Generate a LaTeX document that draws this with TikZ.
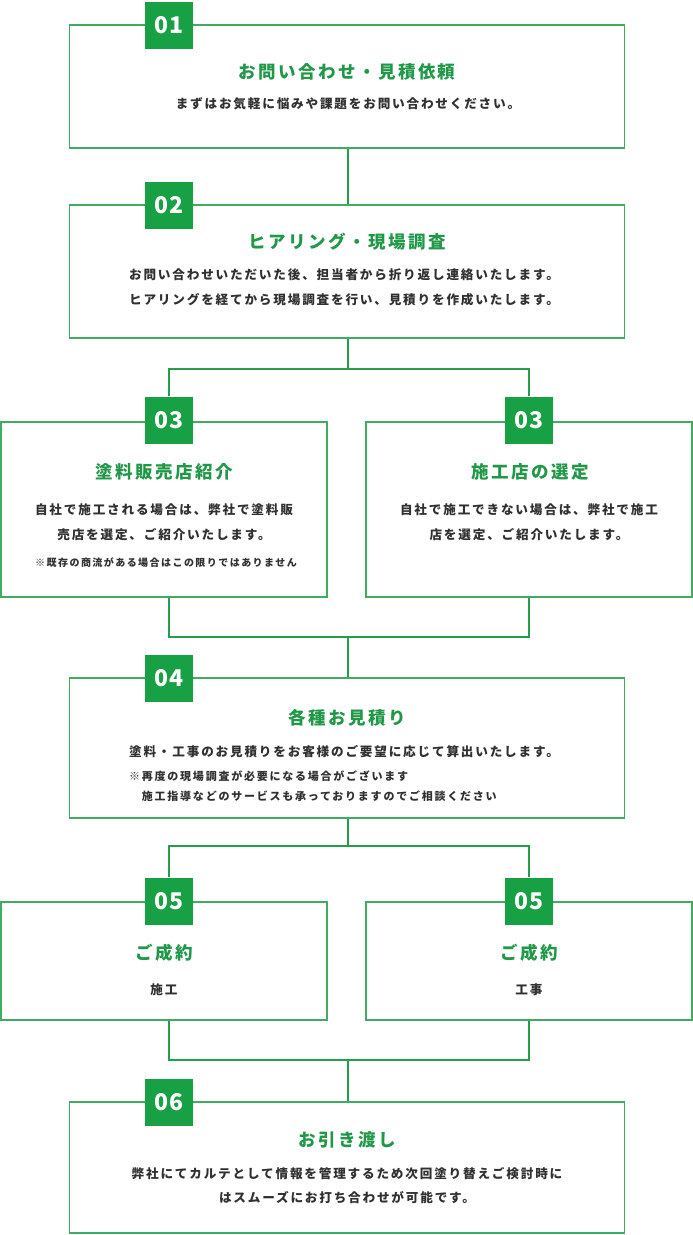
\documentclass[tikz,border=0pt]{standalone}
\usepackage{fontspec}
\setmainfont{Noto Sans CJK JP}
\definecolor{badgegreen}{RGB}{24,160,68}
\definecolor{bordergreen}{RGB}{64,172,96}
\definecolor{titlegreen}{RGB}{32,152,72}
\definecolor{linegreen}{RGB}{36,158,74}
\definecolor{txtgray}{RGB}{48,48,48}
\tikzset{
  stepbox/.style={draw=bordergreen, line width=1.6pt, fill=white, rectangle, inner sep=0pt},
  badge/.style={fill=badgegreen, rectangle, minimum width=48pt, minimum height=47pt, inner sep=0pt,
    text=white, font=\bfseries\fontsize{23}{23}\selectfont\addfontfeature{LetterSpace=6}},
  ttl/.style={text=titlegreen, inner sep=0pt, font=\bfseries\fontsize{17.5}{20}\selectfont\addfontfeature{LetterSpace=14}},
  body/.style={text=txtgray, inner sep=0pt, align=center, font=\bfseries\fontsize{12.6}{24.5}\selectfont\addfontfeature{LetterSpace=14.5}},
  smallnote/.style={text=txtgray, inner sep=0pt, align=left, font=\bfseries\fontsize{10}{20}\selectfont\addfontfeature{LetterSpace=14.5}},
  midnote/.style={text=txtgray, inner sep=0pt, align=left, font=\bfseries\fontsize{11}{20}\selectfont\addfontfeature{LetterSpace=16}},
  conn/.style={draw=linegreen, line width=2.6pt}
}
\begin{document}
\begin{tikzpicture}[x=1pt,y=-1pt]
\useasboundingbox (0,0) rectangle (693,1235);
\fill[white] (0,0) rectangle (693,1235);

\coordinate (j1) at (348,369);
\coordinate (j2) at (348,637);
\coordinate (j3) at (348,846);
\coordinate (j4) at (348,1060);

% boxes
\node[stepbox, minimum width=555pt, minimum height=123pt] (box1) at (347,86.5) {};
\node[stepbox, minimum width=555pt, minimum height=133pt] (box2) at (347,271.5) {};
\node[stepbox, minimum width=326pt, minimum height=175pt] (box3l) at (164,509.5) {};
\node[stepbox, minimum width=326pt, minimum height=175pt] (box3r) at (529,509.5) {};
\node[stepbox, minimum width=555pt, minimum height=140pt] (box4) at (347,748) {};
\node[stepbox, minimum width=326pt, minimum height=118pt] (box5l) at (164,961) {};
\node[stepbox, minimum width=326pt, minimum height=118pt] (box5r) at (529,961) {};
\node[stepbox, minimum width=555pt, minimum height=131pt] (box6) at (347,1167.5) {};

% badges
\node[badge] (b1) at (169,25) {01};
\node[badge] (b2) at (169,205) {02};
\node[badge] (b3l) at (169,420) {03};
\node[badge] (b3r) at (529,420) {03};
\node[badge] (b4) at (169,678) {04};
\node[badge] (b5l) at (169,901) {05};
\node[badge] (b5r) at (529,901) {05};
\node[badge] (b6) at (169,1102) {06};

% connector lines
\draw[conn] (box1.south -| j1) -- (box2.north -| j1);
\draw[conn] (box2.south -| j1) -- (j1);
\draw[conn] (j1) -| (b3l.north);
\draw[conn] (j1) -| (b3r.north);
\draw[conn] (box3l.south -| b3l) |- (j2);
\draw[conn] (box3r.south -| b3r) |- (j2);
\draw[conn] (j2) -- (box4.north -| j2);
\draw[conn] (box4.south -| j3) -- (j3);
\draw[conn] (j3) -| (b5l.north);
\draw[conn] (j3) -| (b5r.north);
\draw[conn] (box5l.south -| b5l) |- (j4);
\draw[conn] (box5r.south -| b5r) |- (j4);
\draw[conn] (j4) -- (box6.north -| j4);

% texts
\node[ttl] (t1) at (347,72) {お問い合わせ・見積依頼};
\node[body] (d1) at (348,104) {まずはお気軽に悩みや課題をお問い合わせください。};

\node[ttl] (t2) at (347,242) {ヒアリング・現場調査};
\node[body] (d2) at (344,287.5) {お問い合わせいただいた後、担当者から折り返し連絡いたします。\\ヒアリングを経てから現場調査を行い、見積りを作成いたします。};

\node[ttl] (t3l) at (164,472) {塗料販売店紹介};
\node[body] (d3l) at (164,522) {自社で施工される場合は、弊社で塗料販\\売店を選定、ご紹介いたします。};
\node[smallnote] (n3l) at (166,563) {※既存の商流がある場合はこの限りではありません};

\node[ttl] (t3r) at (530,472) {施工店の選定};
\node[body] (d3r) at (529,522) {自社で施工できない場合は、弊社で施工\\店を選定、ご紹介いたします。};

\node[ttl] (t4) at (347,718) {各種お見積り};
\node[body] (d4) at (344,752) {塗料・工事のお見積りをお客様のご要望に応じて算出いたします。};
\node[midnote, anchor=west] (n4) at (129,786) {※再度の現場調査が必要になる場合がございます\\　施工指導などのサービスも承っておりますのでご相談ください};

\node[ttl] (t5l) at (164,953) {ご成約};
\node[body] (d5l) at (164,990) {施工};
\node[ttl] (t5r) at (529,953) {ご成約};
\node[body] (d5r) at (529,990) {工事};

\node[ttl] (t6) at (347,1140) {お引き渡し};
\node[body] (d6) at (347,1185.5) {弊社にてカルテとして情報を管理するため次回塗り替えご検討時に\\はスムーズにお打ち合わせが可能です。};
\end{tikzpicture}
\end{document}
